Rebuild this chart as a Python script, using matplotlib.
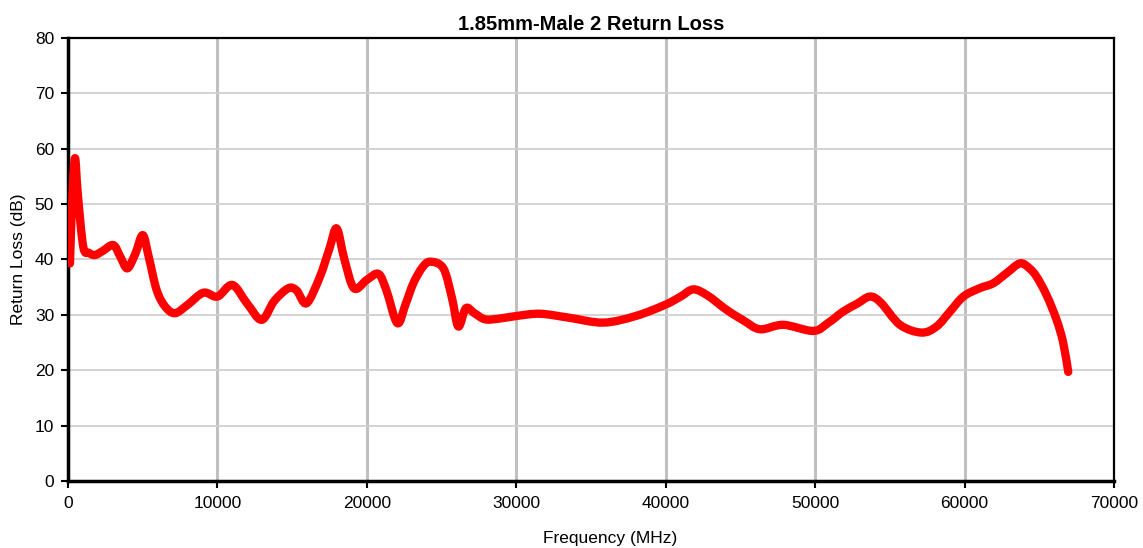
import matplotlib
matplotlib.use("Agg")
import matplotlib.pyplot as plt
import numpy as np
from matplotlib.path import Path
from matplotlib.patches import PathPatch

plt.rcParams['font.family'] = ['Liberation Sans', 'DejaVu Sans']

# frequency (MHz) and return loss (dB)
freq = [130, 300, 470, 650, 1020, 1400, 1800, 2300, 3030, 3500, 3970, 4500, 5000,
        5400, 5930, 6500, 7160, 8000, 9060, 10000, 11000, 12000, 12960, 13800,
        14740, 15300, 15970, 16860, 17500, 17980, 18500, 19140, 19990, 20770,
        21300, 22040, 22600, 23110, 23700, 24230, 25120, 25700, 26120, 26630,
        27200, 27900, 28800, 30030, 31590, 33500, 35820, 38000, 39950, 41000,
        41850, 42800, 44080, 45200, 46310, 47870, 49880, 50900, 51880, 52800,
        53670, 54400, 55680, 57130, 58130, 59000, 59920, 61000, 61920, 62800,
        63710, 64300, 64820, 65500, 66160, 66600, 66940]
rl = [39.3, 52.0, 58.3, 52.0, 42.3, 41.2, 40.8, 41.5, 42.6, 40.5, 38.4, 41.0, 44.4,
      40.5, 34.5, 31.5, 30.3, 31.8, 34.0, 33.3, 35.4, 32.0, 29.1, 32.5,
      34.8, 34.4, 32.1, 36.9, 42.0, 45.6, 40.0, 34.8, 36.3, 37.4,
      34.5, 28.5, 32.0, 35.7, 38.5, 39.6, 38.4, 33.0, 27.9, 31.2,
      30.3, 29.2, 29.3, 29.8, 30.2, 29.5, 28.6, 29.8, 31.8, 33.3,
      34.6, 33.5, 30.9, 29.0, 27.4, 28.2, 27.1, 28.6, 30.6, 32.0,
      33.3, 32.2, 28.2, 26.8, 27.9, 30.5, 33.3, 34.8, 35.7, 37.5,
      39.3, 38.5, 36.9, 33.5, 29.1, 25.0, 19.7]


def smooth_path(x, y, t=1 / 6):
    # Excel-style smoothed line: cubic Bezier segments through the points
    p = np.column_stack([x, y]).astype(float)
    ext = np.vstack([p[0], p, p[-1]])
    verts = [p[0]]
    codes = [Path.MOVETO]
    for i in range(len(p) - 1):
        c1 = p[i] + (ext[i + 2] - ext[i]) * t
        c2 = p[i + 1] - (ext[i + 3] - ext[i + 1]) * t
        verts += [c1, c2, p[i + 1]]
        codes += [Path.CURVE4] * 3
    return Path(verts, codes)


fig = plt.figure(figsize=(11.43, 5.48), dpi=100)
ax = fig.add_axes([0.0595, 0.1223, 0.9151, 0.8084])

ax.add_patch(PathPatch(smooth_path(freq, rl), facecolor='none', edgecolor='#ff0000',
                       lw=6, joinstyle='round', capstyle='round', zorder=3))

ax.set_xlim(0, 70000)
ax.set_ylim(0, 80)
ax.set_xticks(range(0, 70001, 10000))
ax.set_yticks(range(0, 81, 10))

ax.xaxis.grid(True, color='#c0c0c0', lw=2.2)
ax.yaxis.grid(True, color='#d0d0d0', lw=1.3)
ax.set_axisbelow(True)

for s in ax.spines.values():
    s.set_color('black')
    s.set_linewidth(1.6)
ax.spines['left'].set_linewidth(2.5)
ax.spines['bottom'].set_linewidth(2.5)

ax.tick_params(axis='both', direction='out', length=5, width=1.5, labelsize=12.5)
ax.tick_params(axis='x', pad=6)
ax.tick_params(axis='y', pad=5)

ax.set_title('1.85mm-Male 2 Return Loss', fontsize=14.5, fontweight='bold', pad=6)
ax.set_xlabel('Frequency (MHz)', fontsize=12.5)
ax.xaxis.set_label_coords(0.518, -0.113)
ax.set_ylabel('Return Loss (dB)', fontsize=12.5, labelpad=6)

fig.savefig('out.png', dpi=100, facecolor='white')
